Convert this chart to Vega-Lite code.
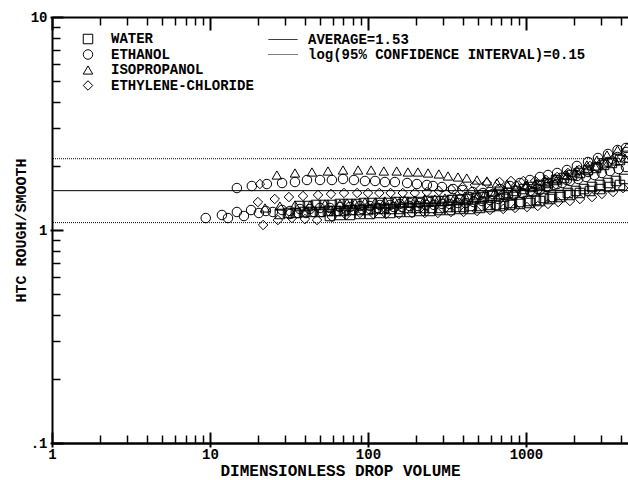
{
  "$schema": "https://vega.github.io/schema/vega-lite/v6.json",
  "width": 576,
  "height": 426,
  "autosize": "none",
  "padding": {"left": 52, "top": 17, "right": 0, "bottom": 37},
  "background": "white",
  "config": {
    "font": "Liberation Mono",
    "view": {"stroke": null},
    "axis": {
      "labelFont": "Liberation Mono", "labelFontWeight": "bold", "labelFontSize": 14, "labelColor": "black",
      "titleFont": "Liberation Mono", "titleFontWeight": "bold", "titleColor": "black",
      "tickColor": "black", "domainColor": "black", "grid": false, "labelFlush": false
    },
    "legend": {"labelFont": "Liberation Mono", "labelFontWeight": "bold", "labelFontSize": 14, "labelColor": "black", "labelLimit": 400}
  },
  "datasets": {
    "lines": [
      {"kind": "AVERAGE=1.53", "val": 1.53},
      {"kind": "log(95% CONFIDENCE INTERVAL)=0.15", "val": 2.161},
      {"kind": "log(95% CONFIDENCE INTERVAL)=0.15", "val": 1.083}
    ],
    "pts": [
      {"fluid":"WATER","vol":27.7,"htc":1.189},{"fluid":"WATER","vol":31.2,"htc":1.202},{"fluid":"WATER","vol":35.0,"htc":1.202},{"fluid":"WATER","vol":39.4,"htc":1.215},{"fluid":"WATER","vol":44.2,"htc":1.215},{"fluid":"WATER","vol":49.7,"htc":1.215},{"fluid":"WATER","vol":55.8,"htc":1.228},{"fluid":"WATER","vol":62.7,"htc":1.228},{"fluid":"WATER","vol":70.5,"htc":1.228},{"fluid":"WATER","vol":79.2,"htc":1.241},{"fluid":"WATER","vol":89.0,"htc":1.241},{"fluid":"WATER","vol":100,"htc":1.241},{"fluid":"WATER","vol":112,"htc":1.255},{"fluid":"WATER","vol":126,"htc":1.255},{"fluid":"WATER","vol":141,"htc":1.255},{"fluid":"WATER","vol":159,"htc":1.255},{"fluid":"WATER","vol":179,"htc":1.269},{"fluid":"WATER","vol":201,"htc":1.269},{"fluid":"WATER","vol":226,"htc":1.269},{"fluid":"WATER","vol":254,"htc":1.269},{"fluid":"WATER","vol":286,"htc":1.269},{"fluid":"WATER","vol":321,"htc":1.282},{"fluid":"WATER","vol":361,"htc":1.282},{"fluid":"WATER","vol":403,"htc":1.282},{"fluid":"WATER","vol":455,"htc":1.296},{"fluid":"WATER","vol":512,"htc":1.296},{"fluid":"WATER","vol":574,"htc":1.311},{"fluid":"WATER","vol":646,"htc":1.311},{"fluid":"WATER","vol":726,"htc":1.325},{"fluid":"WATER","vol":815,"htc":1.339},{"fluid":"WATER","vol":916,"htc":1.353},{"fluid":"WATER","vol":1030,"htc":1.368},{"fluid":"WATER","vol":1157,"htc":1.383},{"fluid":"WATER","vol":1300,"htc":1.413},{"fluid":"WATER","vol":1461,"htc":1.428},{"fluid":"WATER","vol":1641,"htc":1.46},{"fluid":"WATER","vol":1843,"htc":1.492},{"fluid":"WATER","vol":2071,"htc":1.525},{"fluid":"WATER","vol":2328,"htc":1.557},{"fluid":"WATER","vol":2620,"htc":1.592},{"fluid":"WATER","vol":2939,"htc":1.627},{"fluid":"WATER","vol":3304,"htc":1.662},{"fluid":"WATER","vol":3714,"htc":1.699},{"fluid":"WATER","vol":4180,"htc":1.736},
      {"fluid":"WATER","vol":37.1,"htc":1.296},{"fluid":"WATER","vol":41.7,"htc":1.296},{"fluid":"WATER","vol":46.9,"htc":1.311},{"fluid":"WATER","vol":52.7,"htc":1.311},{"fluid":"WATER","vol":59.1,"htc":1.311},{"fluid":"WATER","vol":66.5,"htc":1.325},{"fluid":"WATER","vol":74.7,"htc":1.325},{"fluid":"WATER","vol":84.2,"htc":1.325},{"fluid":"WATER","vol":94.3,"htc":1.339},{"fluid":"WATER","vol":106,"htc":1.339},{"fluid":"WATER","vol":119,"htc":1.339},{"fluid":"WATER","vol":134,"htc":1.339},{"fluid":"WATER","vol":150,"htc":1.353},{"fluid":"WATER","vol":169,"htc":1.353},{"fluid":"WATER","vol":190,"htc":1.353},{"fluid":"WATER","vol":213,"htc":1.353},{"fluid":"WATER","vol":240,"htc":1.368},{"fluid":"WATER","vol":269,"htc":1.368},{"fluid":"WATER","vol":303,"htc":1.368},{"fluid":"WATER","vol":340,"htc":1.383},{"fluid":"WATER","vol":382,"htc":1.383},{"fluid":"WATER","vol":429,"htc":1.398},{"fluid":"WATER","vol":483,"htc":1.413},{"fluid":"WATER","vol":542,"htc":1.428},{"fluid":"WATER","vol":609,"htc":1.444},{"fluid":"WATER","vol":684,"htc":1.476},{"fluid":"WATER","vol":769,"htc":1.492},{"fluid":"WATER","vol":864,"htc":1.525},{"fluid":"WATER","vol":971,"htc":1.557},{"fluid":"WATER","vol":1091,"htc":1.592},{"fluid":"WATER","vol":1227,"htc":1.627},{"fluid":"WATER","vol":1379,"htc":1.662},{"fluid":"WATER","vol":1550,"htc":1.717},{"fluid":"WATER","vol":1740,"htc":1.754},{"fluid":"WATER","vol":1955,"htc":1.812},{"fluid":"WATER","vol":2197,"htc":1.852},{"fluid":"WATER","vol":2470,"htc":1.913},{"fluid":"WATER","vol":2775,"htc":1.955},{"fluid":"WATER","vol":3118,"htc":2.02},{"fluid":"WATER","vol":3500,"htc":2.064},{"fluid":"WATER","vol":3935,"htc":2.13},
      {"fluid":"WATER","vol":57.4,"htc":1.163},{"fluid":"WATER","vol":66.5,"htc":1.176},{"fluid":"WATER","vol":76.9,"htc":1.176},{"fluid":"WATER","vol":89.0,"htc":1.189},{"fluid":"WATER","vol":103,"htc":1.189},{"fluid":"WATER","vol":119,"htc":1.202},{"fluid":"WATER","vol":138,"htc":1.202},{"fluid":"WATER","vol":159,"htc":1.215},{"fluid":"WATER","vol":184,"htc":1.215},{"fluid":"WATER","vol":213,"htc":1.228},{"fluid":"WATER","vol":247,"htc":1.228},{"fluid":"WATER","vol":286,"htc":1.241},{"fluid":"WATER","vol":330,"htc":1.241},{"fluid":"WATER","vol":382,"htc":1.255},{"fluid":"WATER","vol":442,"htc":1.255},{"fluid":"WATER","vol":512,"htc":1.269},{"fluid":"WATER","vol":592,"htc":1.282},{"fluid":"WATER","vol":684,"htc":1.296},{"fluid":"WATER","vol":792,"htc":1.311},{"fluid":"WATER","vol":916,"htc":1.325},{"fluid":"WATER","vol":1060,"htc":1.339},{"fluid":"WATER","vol":1227,"htc":1.368},{"fluid":"WATER","vol":1419,"htc":1.398},{"fluid":"WATER","vol":1641,"htc":1.428},{"fluid":"WATER","vol":1898,"htc":1.46},{"fluid":"WATER","vol":2197,"htc":1.492},{"fluid":"WATER","vol":2541,"htc":1.525},{"fluid":"WATER","vol":2939,"htc":1.557},{"fluid":"WATER","vol":3401,"htc":1.592},{"fluid":"WATER","vol":3935,"htc":1.627},
      {"fluid":"ETHANOL","vol":14.8,"htc":1.574},{"fluid":"ETHANOL","vol":18.4,"htc":1.609},{"fluid":"ETHANOL","vol":22.9,"htc":1.644},{"fluid":"ETHANOL","vol":28.6,"htc":1.662},{"fluid":"ETHANOL","vol":34.5,"htc":1.68},{"fluid":"ETHANOL","vol":41.1,"htc":1.717},{"fluid":"ETHANOL","vol":49.7,"htc":1.717},{"fluid":"ETHANOL","vol":59.1,"htc":1.717},{"fluid":"ETHANOL","vol":69.5,"htc":1.736},{"fluid":"ETHANOL","vol":81.5,"htc":1.717},{"fluid":"ETHANOL","vol":95.7,"htc":1.699},{"fluid":"ETHANOL","vol":111,"htc":1.699},{"fluid":"ETHANOL","vol":128,"htc":1.68},{"fluid":"ETHANOL","vol":148,"htc":1.68},{"fluid":"ETHANOL","vol":177,"htc":1.662},{"fluid":"ETHANOL","vol":204,"htc":1.644},{"fluid":"ETHANOL","vol":236,"htc":1.627},{"fluid":"ETHANOL","vol":258,"htc":1.609},{"fluid":"ETHANOL","vol":294,"htc":1.592},{"fluid":"ETHANOL","vol":346,"htc":1.557},{"fluid":"ETHANOL","vol":397,"htc":1.541},{"fluid":"ETHANOL","vol":461,"htc":1.508},{"fluid":"ETHANOL","vol":535,"htc":1.492},{"fluid":"ETHANOL","vol":618,"htc":1.476},{"fluid":"ETHANOL","vol":718,"htc":1.46},{"fluid":"ETHANOL","vol":828,"htc":1.46},{"fluid":"ETHANOL","vol":963,"htc":1.476},{"fluid":"ETHANOL","vol":1108,"htc":1.508},{"fluid":"ETHANOL","vol":1227,"htc":1.541},{"fluid":"ETHANOL","vol":1379,"htc":1.592},{"fluid":"ETHANOL","vol":1575,"htc":1.644},{"fluid":"ETHANOL","vol":1817,"htc":1.717},{"fluid":"ETHANOL","vol":2102,"htc":1.793},{"fluid":"ETHANOL","vol":2470,"htc":1.872},{"fluid":"ETHANOL","vol":2856,"htc":1.976},{"fluid":"ETHANOL","vol":3304,"htc":2.086},{"fluid":"ETHANOL","vol":3800,"htc":2.202},{"fluid":"ETHANOL","vol":4295,"htc":2.324},
      {"fluid":"ETHANOL","vol":9.4,"htc":1.138},{"fluid":"ETHANOL","vol":11.9,"htc":1.176},{"fluid":"ETHANOL","vol":13.0,"htc":1.138},{"fluid":"ETHANOL","vol":14.8,"htc":1.215},{"fluid":"ETHANOL","vol":16.4,"htc":1.163},{"fluid":"ETHANOL","vol":18.2,"htc":1.241},{"fluid":"ETHANOL","vol":20.4,"htc":1.202},{"fluid":"ETHANOL","vol":22.6,"htc":1.228},{"fluid":"ETHANOL","vol":25.0,"htc":1.215},{"fluid":"ETHANOL","vol":28.6,"htc":1.241},{"fluid":"ETHANOL","vol":32.1,"htc":1.228},{"fluid":"ETHANOL","vol":37.1,"htc":1.255},{"fluid":"ETHANOL","vol":42.9,"htc":1.255},{"fluid":"ETHANOL","vol":49.7,"htc":1.269},{"fluid":"ETHANOL","vol":57.4,"htc":1.269},{"fluid":"ETHANOL","vol":66.5,"htc":1.282},{"fluid":"ETHANOL","vol":76.9,"htc":1.282},{"fluid":"ETHANOL","vol":89.0,"htc":1.296},{"fluid":"ETHANOL","vol":103,"htc":1.296},{"fluid":"ETHANOL","vol":119,"htc":1.311},{"fluid":"ETHANOL","vol":138,"htc":1.311},{"fluid":"ETHANOL","vol":159,"htc":1.325},{"fluid":"ETHANOL","vol":184,"htc":1.339},{"fluid":"ETHANOL","vol":213,"htc":1.339},{"fluid":"ETHANOL","vol":247,"htc":1.353},{"fluid":"ETHANOL","vol":286,"htc":1.368},{"fluid":"ETHANOL","vol":330,"htc":1.383},{"fluid":"ETHANOL","vol":382,"htc":1.398},{"fluid":"ETHANOL","vol":442,"htc":1.428},{"fluid":"ETHANOL","vol":512,"htc":1.46},{"fluid":"ETHANOL","vol":592,"htc":1.508},{"fluid":"ETHANOL","vol":684,"htc":1.557},{"fluid":"ETHANOL","vol":792,"htc":1.609},{"fluid":"ETHANOL","vol":916,"htc":1.662},{"fluid":"ETHANOL","vol":1060,"htc":1.717},{"fluid":"ETHANOL","vol":1227,"htc":1.774},{"fluid":"ETHANOL","vol":1379,"htc":1.812},{"fluid":"ETHANOL","vol":1575,"htc":1.852},{"fluid":"ETHANOL","vol":1817,"htc":1.913},{"fluid":"ETHANOL","vol":2102,"htc":1.998},{"fluid":"ETHANOL","vol":2470,"htc":2.086},{"fluid":"ETHANOL","vol":2856,"htc":2.178},{"fluid":"ETHANOL","vol":3304,"htc":2.275},{"fluid":"ETHANOL","vol":3800,"htc":2.375},{"fluid":"ETHANOL","vol":4295,"htc":2.427},
      {"fluid":"ETHANOL","vol":32.1,"htc":1.189},{"fluid":"ETHANOL","vol":36.1,"htc":1.202},{"fluid":"ETHANOL","vol":40.5,"htc":1.202},{"fluid":"ETHANOL","vol":45.5,"htc":1.215},{"fluid":"ETHANOL","vol":51.2,"htc":1.215},{"fluid":"ETHANOL","vol":57.4,"htc":1.228},{"fluid":"ETHANOL","vol":64.6,"htc":1.228},{"fluid":"ETHANOL","vol":72.6,"htc":1.241},{"fluid":"ETHANOL","vol":81.5,"htc":1.241},{"fluid":"ETHANOL","vol":91.6,"htc":1.255},{"fluid":"ETHANOL","vol":103,"htc":1.255},{"fluid":"ETHANOL","vol":116,"htc":1.269},{"fluid":"ETHANOL","vol":130,"htc":1.269},{"fluid":"ETHANOL","vol":146,"htc":1.282},{"fluid":"ETHANOL","vol":164,"htc":1.282},{"fluid":"ETHANOL","vol":184,"htc":1.296},{"fluid":"ETHANOL","vol":207,"htc":1.296},{"fluid":"ETHANOL","vol":233,"htc":1.311},{"fluid":"ETHANOL","vol":262,"htc":1.311},{"fluid":"ETHANOL","vol":294,"htc":1.325},{"fluid":"ETHANOL","vol":330,"htc":1.325},{"fluid":"ETHANOL","vol":371,"htc":1.339},{"fluid":"ETHANOL","vol":416,"htc":1.339},{"fluid":"ETHANOL","vol":468,"htc":1.353},{"fluid":"ETHANOL","vol":527,"htc":1.368},{"fluid":"ETHANOL","vol":592,"htc":1.383},{"fluid":"ETHANOL","vol":671,"htc":1.398},{"fluid":"ETHANOL","vol":747,"htc":1.428},{"fluid":"ETHANOL","vol":840,"htc":1.46},{"fluid":"ETHANOL","vol":948,"htc":1.492},{"fluid":"ETHANOL","vol":1060,"htc":1.525},{"fluid":"ETHANOL","vol":1187,"htc":1.557},{"fluid":"ETHANOL","vol":1339,"htc":1.592},{"fluid":"ETHANOL","vol":1504,"htc":1.627},{"fluid":"ETHANOL","vol":1695,"htc":1.662},{"fluid":"ETHANOL","vol":1898,"htc":1.699},{"fluid":"ETHANOL","vol":2140,"htc":1.736},{"fluid":"ETHANOL","vol":2398,"htc":1.774},{"fluid":"ETHANOL","vol":2710,"htc":1.812},{"fluid":"ETHANOL","vol":3025,"htc":1.852},{"fluid":"ETHANOL","vol":3401,"htc":1.892},{"fluid":"ETHANOL","vol":3860,"htc":1.934},{"fluid":"ETHANOL","vol":4295,"htc":1.976},
      {"fluid":"ISOPROPANOL","vol":26.5,"htc":1.812},{"fluid":"ISOPROPANOL","vol":34.5,"htc":1.852},{"fluid":"ISOPROPANOL","vol":44.2,"htc":1.872},{"fluid":"ISOPROPANOL","vol":55.8,"htc":1.892},{"fluid":"ISOPROPANOL","vol":69.5,"htc":1.913},{"fluid":"ISOPROPANOL","vol":86.6,"htc":1.913},{"fluid":"ISOPROPANOL","vol":104.7,"htc":1.913},{"fluid":"ISOPROPANOL","vol":126,"htc":1.892},{"fluid":"ISOPROPANOL","vol":152,"htc":1.892},{"fluid":"ISOPROPANOL","vol":179,"htc":1.872},{"fluid":"ISOPROPANOL","vol":207,"htc":1.872},{"fluid":"ISOPROPANOL","vol":240,"htc":1.852},{"fluid":"ISOPROPANOL","vol":281,"htc":1.833},{"fluid":"ISOPROPANOL","vol":321,"htc":1.793},{"fluid":"ISOPROPANOL","vol":371,"htc":1.774},{"fluid":"ISOPROPANOL","vol":422,"htc":1.754},{"fluid":"ISOPROPANOL","vol":490,"htc":1.717},{"fluid":"ISOPROPANOL","vol":566,"htc":1.699},{"fluid":"ISOPROPANOL","vol":655,"htc":1.662},{"fluid":"ISOPROPANOL","vol":758,"htc":1.644},{"fluid":"ISOPROPANOL","vol":877,"htc":1.627},{"fluid":"ISOPROPANOL","vol":1015,"htc":1.627},{"fluid":"ISOPROPANOL","vol":1174,"htc":1.644},{"fluid":"ISOPROPANOL","vol":1358,"htc":1.68},{"fluid":"ISOPROPANOL","vol":1575,"htc":1.736},{"fluid":"ISOPROPANOL","vol":1817,"htc":1.812},{"fluid":"ISOPROPANOL","vol":2102,"htc":1.913},{"fluid":"ISOPROPANOL","vol":2432,"htc":2.02},{"fluid":"ISOPROPANOL","vol":2814,"htc":2.13},{"fluid":"ISOPROPANOL","vol":3258,"htc":2.25},{"fluid":"ISOPROPANOL","vol":3800,"htc":2.375},{"fluid":"ISOPROPANOL","vol":4360,"htc":2.453},
      {"fluid":"ISOPROPANOL","vol":22.3,"htc":1.269},{"fluid":"ISOPROPANOL","vol":27.7,"htc":1.296},{"fluid":"ISOPROPANOL","vol":34.5,"htc":1.311},{"fluid":"ISOPROPANOL","vol":42.9,"htc":1.311},{"fluid":"ISOPROPANOL","vol":53.4,"htc":1.325},{"fluid":"ISOPROPANOL","vol":66.5,"htc":1.325},{"fluid":"ISOPROPANOL","vol":73.7,"htc":1.339},{"fluid":"ISOPROPANOL","vol":82.8,"htc":1.339},{"fluid":"ISOPROPANOL","vol":95.7,"htc":1.353},{"fluid":"ISOPROPANOL","vol":111,"htc":1.353},{"fluid":"ISOPROPANOL","vol":128,"htc":1.368},{"fluid":"ISOPROPANOL","vol":148,"htc":1.368},{"fluid":"ISOPROPANOL","vol":171,"htc":1.383},{"fluid":"ISOPROPANOL","vol":198,"htc":1.383},{"fluid":"ISOPROPANOL","vol":229,"htc":1.398},{"fluid":"ISOPROPANOL","vol":265,"htc":1.398},{"fluid":"ISOPROPANOL","vol":307,"htc":1.413},{"fluid":"ISOPROPANOL","vol":355,"htc":1.428},{"fluid":"ISOPROPANOL","vol":411,"htc":1.444},{"fluid":"ISOPROPANOL","vol":475,"htc":1.46},{"fluid":"ISOPROPANOL","vol":550,"htc":1.476},{"fluid":"ISOPROPANOL","vol":637,"htc":1.508},{"fluid":"ISOPROPANOL","vol":736,"htc":1.541},{"fluid":"ISOPROPANOL","vol":853,"htc":1.574},{"fluid":"ISOPROPANOL","vol":986,"htc":1.609},{"fluid":"ISOPROPANOL","vol":1142,"htc":1.644},{"fluid":"ISOPROPANOL","vol":1319,"htc":1.699},{"fluid":"ISOPROPANOL","vol":1526,"htc":1.754},{"fluid":"ISOPROPANOL","vol":1766,"htc":1.812},{"fluid":"ISOPROPANOL","vol":2042,"htc":1.872},{"fluid":"ISOPROPANOL","vol":2362,"htc":1.934},{"fluid":"ISOPROPANOL","vol":2733,"htc":1.998},{"fluid":"ISOPROPANOL","vol":3162,"htc":2.064},{"fluid":"ISOPROPANOL","vol":3680,"htc":2.109},{"fluid":"ISOPROPANOL","vol":4232,"htc":2.178},
      {"fluid":"ETHYLENE-CHLORIDE","vol":20.1,"htc":1.353},{"fluid":"ETHYLENE-CHLORIDE","vol":25.7,"htc":1.398},{"fluid":"ETHYLENE-CHLORIDE","vol":31.6,"htc":1.428},{"fluid":"ETHYLENE-CHLORIDE","vol":38.8,"htc":1.444},{"fluid":"ETHYLENE-CHLORIDE","vol":48.3,"htc":1.46},{"fluid":"ETHYLENE-CHLORIDE","vol":58.3,"htc":1.476},{"fluid":"ETHYLENE-CHLORIDE","vol":70.5,"htc":1.492},{"fluid":"ETHYLENE-CHLORIDE","vol":85.4,"htc":1.492},{"fluid":"ETHYLENE-CHLORIDE","vol":100,"htc":1.492},{"fluid":"ETHYLENE-CHLORIDE","vol":118,"htc":1.492},{"fluid":"ETHYLENE-CHLORIDE","vol":139,"htc":1.492},{"fluid":"ETHYLENE-CHLORIDE","vol":166,"htc":1.492},{"fluid":"ETHYLENE-CHLORIDE","vol":198,"htc":1.492},{"fluid":"ETHYLENE-CHLORIDE","vol":236,"htc":1.508},{"fluid":"ETHYLENE-CHLORIDE","vol":281,"htc":1.525},{"fluid":"ETHYLENE-CHLORIDE","vol":335,"htc":1.557},{"fluid":"ETHYLENE-CHLORIDE","vol":397,"htc":1.592},{"fluid":"ETHYLENE-CHLORIDE","vol":475,"htc":1.627},{"fluid":"ETHYLENE-CHLORIDE","vol":566,"htc":1.662},{"fluid":"ETHYLENE-CHLORIDE","vol":681,"htc":1.68},{"fluid":"ETHYLENE-CHLORIDE","vol":804,"htc":1.699},{"fluid":"ETHYLENE-CHLORIDE","vol":963,"htc":1.699},{"fluid":"ETHYLENE-CHLORIDE","vol":1142,"htc":1.699},{"fluid":"ETHYLENE-CHLORIDE","vol":1339,"htc":1.717},{"fluid":"ETHYLENE-CHLORIDE","vol":1575,"htc":1.774},{"fluid":"ETHYLENE-CHLORIDE","vol":1843,"htc":1.852},{"fluid":"ETHYLENE-CHLORIDE","vol":2170,"htc":1.913},{"fluid":"ETHYLENE-CHLORIDE","vol":2541,"htc":1.998},{"fluid":"ETHYLENE-CHLORIDE","vol":2985,"htc":2.064},{"fluid":"ETHYLENE-CHLORIDE","vol":3500,"htc":2.13},{"fluid":"ETHYLENE-CHLORIDE","vol":4060,"htc":2.202},
      {"fluid":"ETHYLENE-CHLORIDE","vol":21.7,"htc":1.056},{"fluid":"ETHYLENE-CHLORIDE","vol":26.9,"htc":1.114},{"fluid":"ETHYLENE-CHLORIDE","vol":33.0,"htc":1.138},{"fluid":"ETHYLENE-CHLORIDE","vol":39.9,"htc":1.126},{"fluid":"ETHYLENE-CHLORIDE","vol":47.6,"htc":1.114},{"fluid":"ETHYLENE-CHLORIDE","vol":59.1,"htc":1.151},{"fluid":"ETHYLENE-CHLORIDE","vol":72.6,"htc":1.176},{"fluid":"ETHYLENE-CHLORIDE","vol":89.0,"htc":1.202},{"fluid":"ETHYLENE-CHLORIDE","vol":108,"htc":1.189},{"fluid":"ETHYLENE-CHLORIDE","vol":130,"htc":1.189},{"fluid":"ETHYLENE-CHLORIDE","vol":157,"htc":1.189},{"fluid":"ETHYLENE-CHLORIDE","vol":190,"htc":1.202},{"fluid":"ETHYLENE-CHLORIDE","vol":229,"htc":1.202},{"fluid":"ETHYLENE-CHLORIDE","vol":277,"htc":1.202},{"fluid":"ETHYLENE-CHLORIDE","vol":335,"htc":1.215},{"fluid":"ETHYLENE-CHLORIDE","vol":403,"htc":1.215},{"fluid":"ETHYLENE-CHLORIDE","vol":490,"htc":1.228},{"fluid":"ETHYLENE-CHLORIDE","vol":592,"htc":1.241},{"fluid":"ETHYLENE-CHLORIDE","vol":718,"htc":1.255},{"fluid":"ETHYLENE-CHLORIDE","vol":853,"htc":1.269},{"fluid":"ETHYLENE-CHLORIDE","vol":1015,"htc":1.282},{"fluid":"ETHYLENE-CHLORIDE","vol":1187,"htc":1.296},{"fluid":"ETHYLENE-CHLORIDE","vol":1379,"htc":1.325},{"fluid":"ETHYLENE-CHLORIDE","vol":1600,"htc":1.353},{"fluid":"ETHYLENE-CHLORIDE","vol":1898,"htc":1.368},{"fluid":"ETHYLENE-CHLORIDE","vol":2197,"htc":1.398},{"fluid":"ETHYLENE-CHLORIDE","vol":2620,"htc":1.428},{"fluid":"ETHYLENE-CHLORIDE","vol":3025,"htc":1.476},{"fluid":"ETHYLENE-CHLORIDE","vol":3560,"htc":1.508},{"fluid":"ETHYLENE-CHLORIDE","vol":4120,"htc":1.574},
      {"fluid":"ETHYLENE-CHLORIDE","vol":20.7,"htc":1.644}
    ]
  },
  "resolve": {"scale": {"x": "shared", "y": "shared"}, "axis": {"x": "independent", "y": "independent"}},
  "layer": [
    {
      "data": {"name": "lines"},
      "mark": {"type": "rule", "color": "black", "strokeWidth": 1},
      "encoding": {
        "y": {"field": "val", "type": "quantitative", "scale": {"type": "log", "domain": [0.1, 10], "nice": false}, "axis": null},
        "strokeDash": {
          "field": "kind", "type": "nominal",
          "scale": {"domain": ["AVERAGE=1.53", "log(95% CONFIDENCE INTERVAL)=0.15"], "range": [[1, 0], [1, 1]]},
          "legend": {"title": null, "orient": "none", "legendX": 216, "legendY": 15, "padding": 0, "labelOffset": 10, "rowPadding": 0, "clipHeight": 15, "symbolType": "stroke", "symbolSize": 841, "symbolStrokeWidth": 1, "symbolStrokeColor": "black"}
        }
      }
    },
    {
      "data": {"name": "pts"},
      "mark": {"type": "point", "filled": false, "color": "black", "strokeWidth": 1, "size": 90, "opacity": 1},
      "encoding": {
        "x": {"field": "vol", "type": "quantitative", "scale": {"type": "log", "domain": [1, 4425], "nice": false},
              "axis": {"orient": "bottom", "values": [1, 10, 100, 1000], "domain": false, "offset": 4, "tickSize": -15, "tickWidth": 2, "labelPadding": 15, "labelExpr": "format(datum.value, 'd')", "title": "DIMENSIONLESS DROP VOLUME", "titleFontSize": 16, "titleY": 23, "titleBaseline": "middle"}},
        "y": {"field": "htc", "type": "quantitative", "scale": {"type": "log", "domain": [0.1, 10], "nice": false},
              "axis": {"orient": "left", "values": [0.1, 1, 10], "domain": false, "offset": 2, "tickSize": -13, "tickWidth": 2, "labelPadding": 16, "labelExpr": "datum.value < 0.5 ? '.1' : format(datum.value, 'd')", "title": "HTC ROUGH/SMOOTH", "titleFontSize": 15, "titleX": -30, "titleY": 213, "titleBaseline": "middle", "titleAngle": -90}},
        "shape": {
          "field": "fluid", "type": "nominal",
          "scale": {"domain": ["WATER", "ETHANOL", "ISOPROPANOL", "ETHYLENE-CHLORIDE"], "range": ["square", "circle", "triangle-up", "diamond"]},
          "legend": {"title": null, "orient": "none", "legendX": 29, "legendY": 15, "padding": 0, "labelOffset": 16, "rowPadding": 1.5, "symbolSize": 90, "symbolStrokeWidth": 1, "symbolStrokeColor": "black", "symbolFillColor": "transparent"}
        }
      }
    },
    {
      "data": {"name": "pts"},
      "mark": {"type": "point", "opacity": 0},
      "encoding": {
        "x": {"field": "vol", "type": "quantitative", "scale": {"type": "log", "domain": [1, 4425], "nice": false},
              "axis": {"orient": "bottom", "values": [2,3,4,5,6,7,8,9,20,30,40,50,60,70,80,90,200,300,400,500,600,700,800,900,2000,3000,4000], "domain": true, "domainWidth": 2.5, "tickSize": -8, "tickWidth": 1.5, "labels": false, "title": null}},
        "y": {"field": "htc", "type": "quantitative", "scale": {"type": "log", "domain": [0.1, 10], "nice": false},
              "axis": {"orient": "left", "values": [0.2,0.3,0.4,0.5,0.6,0.7,0.8,0.9,2,3,4,5,6,7,8,9], "domain": true, "domainWidth": 2, "tickSize": -8, "tickWidth": 1.5, "labels": false, "title": null}}
      }
    },
    {
      "data": {"name": "pts"},
      "mark": {"type": "point", "opacity": 0},
      "encoding": {
        "x": {"field": "vol", "type": "quantitative", "scale": {"type": "log", "domain": [1, 4425], "nice": false},
              "axis": {"orient": "top", "values": [1, 10, 100, 1000], "domain": true, "domainWidth": 2, "tickSize": -13, "tickWidth": 2, "labels": false, "title": null}},
        "y": {"field": "htc", "type": "quantitative", "scale": {"type": "log", "domain": [0.1, 10], "nice": false}, "axis": null}
      }
    },
    {
      "data": {"name": "pts"},
      "mark": {"type": "point", "opacity": 0},
      "encoding": {
        "x": {"field": "vol", "type": "quantitative", "scale": {"type": "log", "domain": [1, 4425], "nice": false},
              "axis": {"orient": "top", "values": [2,3,4,5,6,7,8,9,20,30,40,50,60,70,80,90,200,300,400,500,600,700,800,900,2000,3000,4000], "domain": false, "tickSize": -8, "tickWidth": 1.5, "labels": false, "title": null}},
        "y": {"field": "htc", "type": "quantitative", "scale": {"type": "log", "domain": [0.1, 10], "nice": false}, "axis": null}
      }
    }
  ]
}
